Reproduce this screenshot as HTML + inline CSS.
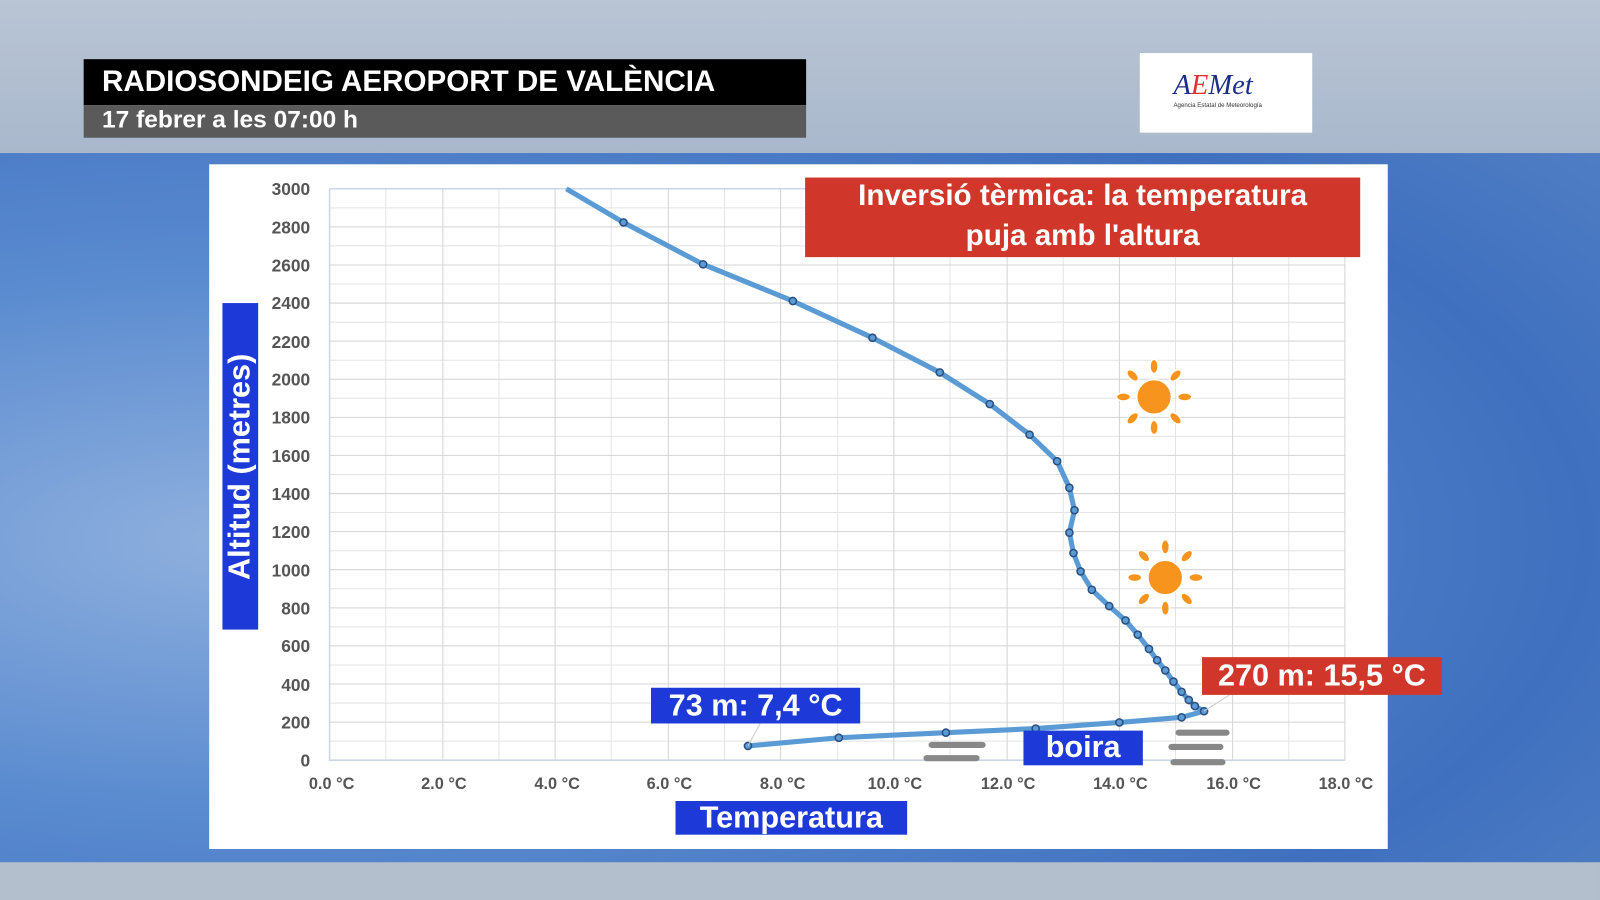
<!DOCTYPE html><html><head><meta charset="utf-8"><style>
*{margin:0;padding:0;box-sizing:border-box}
body{width:1600px;height:900px;overflow:hidden;background:#4d7fc4;font-family:"Liberation Sans",sans-serif}
#s{width:1568px;height:882px;transform:scale(1.0204);transform-origin:0 0;position:relative;
background:radial-gradient(ellipse at 15% 60%,#8fb0de 0,#5a8bd0 35%,#3f70bf 70%,#5c88c8 100%)}
.a{position:absolute}
.lbl{position:absolute;color:#fff;font-weight:bold;text-align:center;white-space:nowrap}
</style></head><body><div id="s">
<div class="a" style="left:0;top:0;width:1568px;height:150px;background:linear-gradient(#b9c5d5,#a9b8cc)"></div>
<div class="a" style="left:0;top:845px;width:1568px;height:37px;background:#b4bfce"></div>
<div class="a" style="left:82px;top:58px;width:708px;height:45px;background:#000"></div>
<div class="a" style="left:82px;top:103px;width:708px;height:32px;background:#5a5a5a"></div>
<div class="lbl" style="left:100px;top:64px;font-size:29px">RADIOSONDEIG AEROPORT DE VALÈNCIA</div>
<div class="lbl" style="left:100px;top:104px;font-size:24px">17 febrer a les 07:00 h</div>
<div class="a" style="left:1117px;top:52px;width:169px;height:78px;background:#fff"></div>
<div class="a" style="left:1150px;top:68px;font-size:28px;font-style:italic;color:#1a2e8a;font-family:'Liberation Serif',serif">A<span style="color:#d33">E</span>Met</div>
<div class="a" style="left:1150px;top:101px;font-size:6px;color:#333">Agencia Estatal de Meteorología</div>
<div class="a" style="left:205px;top:161px;width:1155px;height:671px;background:#fff"></div>
<svg class="a" style="left:0;top:0" width="1568" height="882">
<g stroke="#e4e4e4" stroke-width="1">
<path d="M323 203.7H1318M323 241H1318M323 278.3H1318M323 315.7H1318M323 353H1318M323 390.3H1318M323 427.7H1318M323 465H1318M323 502.3H1318M323 539.7H1318M323 577H1318M323 614.3H1318M323 651.7H1318M323 689H1318M323 726.3H1318"/>
<path d="M378 185V745M489 185V745M599 185V745M710 185V745M821 185V745M931 185V745M1042 185V745M1152 185V745M1263 185V745"/>
</g>
<g stroke="#d4d4d4" stroke-width="1">
<path d="M323 222.3H1318M323 259.7H1318M323 297H1318M323 334.3H1318M323 371.7H1318M323 409H1318M323 446.3H1318M323 483.7H1318M323 521H1318M323 558.3H1318M323 595.7H1318M323 633H1318M323 670.3H1318M323 707.7H1318"/>
<path d="M434 185V745M544 185V745M655 185V745M765 185V745M876 185V745M987 185V745M1097 185V745M1208 185V745M1318 185V745"/>
</g>
<path d="M323 185H1318M323 185V745H1318" stroke="#c9d6e8" stroke-width="1.5" fill="none"/>
<g font-size="17" font-weight="bold" fill="#555" text-anchor="end">
<text x="304" y="191">3000</text><text x="304" y="229">2800</text><text x="304" y="266">2600</text><text x="304" y="303">2400</text><text x="304" y="341">2200</text><text x="304" y="378">2000</text><text x="304" y="415">1800</text><text x="304" y="453">1600</text><text x="304" y="490">1400</text><text x="304" y="527">1200</text><text x="304" y="565">1000</text><text x="304" y="602">800</text><text x="304" y="639">600</text><text x="304" y="677">400</text><text x="304" y="714">200</text><text x="304" y="751">0</text>
</g>
<g font-size="16" font-weight="bold" fill="#555" text-anchor="middle">
<text x="325" y="773">0.0 °C</text><text x="435" y="773">2.0 °C</text><text x="546" y="773">4.0 °C</text><text x="656" y="773">6.0 °C</text><text x="767" y="773">8.0 °C</text><text x="877" y="773">10.0 °C</text><text x="988" y="773">12.0 °C</text><text x="1098" y="773">14.0 °C</text><text x="1209" y="773">16.0 °C</text><text x="1319" y="773">18.0 °C</text>
</g>
<polyline fill="none" stroke="#5b9bd5" stroke-width="5" stroke-linejoin="round" points="555,185 611,218 689,259 777,295 855,331 921,365 970,396 1009,426 1036,452 1048,478 1053,500 1048,522 1052,542 1059,560 1070,578 1087,594 1103,608 1115,622 1126,636 1134,647 1142,657 1150,668 1158,678 1165,686 1171,692 1180,697 1158,703 1097,708 1015,714 927,718 822,723 733,731"/>
<g fill="#5b9bd5" stroke="#2a4f80" stroke-width="1.5">
<circle cx="611" cy="218" r="3.5"/><circle cx="689" cy="259" r="3.5"/><circle cx="777" cy="295" r="3.5"/><circle cx="855" cy="331" r="3.5"/><circle cx="921" cy="365" r="3.5"/><circle cx="970" cy="396" r="3.5"/><circle cx="1009" cy="426" r="3.5"/><circle cx="1036" cy="452" r="3.5"/><circle cx="1048" cy="478" r="3.5"/><circle cx="1053" cy="500" r="3.5"/><circle cx="1048" cy="522" r="3.5"/><circle cx="1052" cy="542" r="3.5"/><circle cx="1059" cy="560" r="3.5"/><circle cx="1070" cy="578" r="3.5"/><circle cx="1087" cy="594" r="3.5"/><circle cx="1103" cy="608" r="3.5"/><circle cx="1115" cy="622" r="3.5"/><circle cx="1126" cy="636" r="3.5"/><circle cx="1134" cy="647" r="3.5"/><circle cx="1142" cy="657" r="3.5"/><circle cx="1150" cy="668" r="3.5"/><circle cx="1158" cy="678" r="3.5"/><circle cx="1165" cy="686" r="3.5"/><circle cx="1171" cy="692" r="3.5"/><circle cx="1180" cy="697" r="3.5"/><circle cx="1158" cy="703" r="3.5"/><circle cx="1097" cy="708" r="3.5"/><circle cx="1015" cy="714" r="3.5"/><circle cx="927" cy="718" r="3.5"/><circle cx="822" cy="723" r="3.5"/><circle cx="733" cy="731" r="3.5"/>
</g>
<path d="M733 731L745 709M1180 697L1205 681" stroke="#ccc" stroke-width="1"/>
<g stroke="#888" stroke-width="6" stroke-linecap="round">
<path d="M913 730H963M908 743H957M1155 718H1202M1148 732H1196M1150 747H1198"/>
</g>
<g fill="#f7941d" stroke="#fff" stroke-width="1.5">
<circle cx="1131" cy="389" r="17"/><circle cx="1142" cy="566" r="17"/>
<g transform="translate(1131 389)"><ellipse cx="0" cy="-30" rx="4" ry="7"/><ellipse cx="0" cy="30" rx="4" ry="7"/><ellipse cx="-30" cy="0" rx="7" ry="4"/><ellipse cx="30" cy="0" rx="7" ry="4"/><ellipse cx="21" cy="21" rx="4" ry="7" transform="rotate(-45 21 21)"/><ellipse cx="-21" cy="-21" rx="4" ry="7" transform="rotate(-45 -21 -21)"/><ellipse cx="21" cy="-21" rx="4" ry="7" transform="rotate(45 21 -21)"/><ellipse cx="-21" cy="21" rx="4" ry="7" transform="rotate(45 -21 21)"/></g>
<g transform="translate(1142 566)"><ellipse cx="0" cy="-30" rx="4" ry="7"/><ellipse cx="0" cy="30" rx="4" ry="7"/><ellipse cx="-30" cy="0" rx="7" ry="4"/><ellipse cx="30" cy="0" rx="7" ry="4"/><ellipse cx="21" cy="21" rx="4" ry="7" transform="rotate(-45 21 21)"/><ellipse cx="-21" cy="-21" rx="4" ry="7" transform="rotate(-45 -21 -21)"/><ellipse cx="21" cy="-21" rx="4" ry="7" transform="rotate(45 21 -21)"/><ellipse cx="-21" cy="21" rx="4" ry="7" transform="rotate(45 -21 21)"/></g>
</g>
</svg>
<div class="a" style="left:789px;top:174px;width:544px;height:78px;background:#d0372a"></div>
<div class="lbl" style="left:789px;top:173px;width:544px;font-size:29px;line-height:39px">Inversió tèrmica: la temperatura<br>puja amb l'altura</div>
<div class="a" style="left:218px;top:297px;width:35px;height:320px;background:#1d3ad8"></div>
<div class="lbl" style="left:75px;top:440px;width:320px;height:35px;line-height:35px;font-size:30px;transform:rotate(-90deg)">Altitud (metres)</div>
<div class="lbl" style="left:662px;top:785px;width:227px;height:33px;line-height:33px;font-size:30px;background:#1d3ad8">Temperatura</div>
<div class="lbl" style="left:638px;top:674px;width:205px;height:35px;line-height:35px;font-size:30px;background:#1d3ad8">73 m: 7,4 °C</div>
<div class="lbl" style="left:1178px;top:644px;width:235px;height:37px;line-height:37px;font-size:30px;background:#d0372a">270 m: 15,5 °C</div>
<div class="lbl" style="left:1003px;top:716px;width:117px;height:34px;line-height:34px;font-size:30px;background:#1d3ad8">boira</div>
</div></body></html>
